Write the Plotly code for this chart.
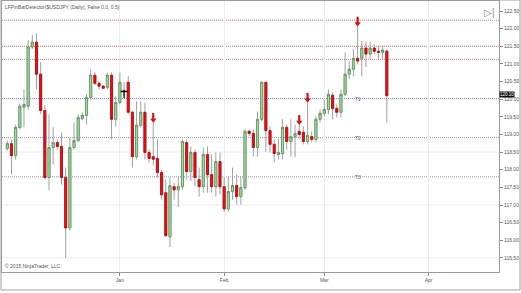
import plotly.graph_objects as go

# ---- data (USDJPY daily bars, index = bar number) ----
opens = [118.60,118.74,118.40,119.20,119.77,119.80,121.48,121.62,120.71,119.68,
         117.78,118.63,118.77,118.66,117.78,116.35,118.63,118.83,119.45,119.54,
         120.05,120.68,120.45,120.37,120.34,120.68,119.43,119.91,120.22,120.48,
         119.63,118.37,119.26,119.63,118.49,118.37,118.32,117.92,117.35,116.10,
         117.52,117.43,117.52,118.77,117.95,118.49,117.72,117.52,118.43,117.86,
         117.52,118.23,117.52,116.89,117.38,117.55,117.24,117.49,119.09,119.03,
         118.63,119.43,120.48,119.11,118.72,118.43,118.46,119.20,118.80,118.94,
         119.09,119.06,118.80,118.94,118.86,119.43,119.60,119.71,120.11,119.74,
         119.63,120.14,120.71,120.85,121.16,121.16,121.45,121.28,121.45,121.36,
         121.33,121.36]
highs = [118.83,118.86,119.28,119.88,120.28,121.68,121.82,121.87,121.05,119.83,
         119.57,119.20,118.86,119.06,118.06,118.91,119.34,119.57,119.63,120.14,
         120.85,120.76,120.51,120.40,120.76,120.76,120.08,120.76,120.48,120.65,
         119.68,119.94,119.94,119.91,118.57,119.34,118.86,118.00,117.72,117.78,
         117.63,117.80,118.86,118.86,118.66,118.57,118.06,118.63,118.66,118.43,
         118.49,118.49,117.80,117.80,118.06,117.86,117.80,119.14,119.14,119.14,
         119.65,120.50,120.50,119.23,118.86,118.86,119.43,119.28,119.43,119.28,
         119.28,119.23,119.91,119.09,119.51,119.71,119.99,120.28,120.20,119.85,
         120.28,121.33,121.08,121.42,122.07,121.65,121.62,121.62,121.56,121.53,
         121.53,121.42]
lows = [118.54,117.86,118.29,119.14,119.20,119.71,121.42,120.28,119.57,117.72,
        117.41,118.15,118.57,117.58,115.50,116.27,118.57,118.77,119.40,119.28,
        120.00,120.40,120.28,120.28,120.28,118.86,119.23,119.85,120.08,119.57,
        118.06,118.29,119.20,118.29,118.20,118.12,117.78,117.15,116.10,115.81,
        117.15,116.95,117.43,117.72,117.68,117.52,117.24,117.35,117.35,117.35,
        117.24,117.30,116.81,116.81,117.15,117.01,117.01,117.43,118.94,118.37,
        118.37,119.37,118.51,118.49,118.20,118.29,118.29,118.57,118.37,118.35,
        118.88,118.72,118.72,118.77,118.77,119.34,119.51,119.57,119.43,119.48,
        119.48,120.08,120.57,120.65,120.99,120.65,120.91,121.13,121.28,121.13,
        121.13,119.34]
closes = [118.74,118.40,119.20,119.80,119.85,121.48,121.62,120.71,119.68,117.78,
          118.63,118.77,118.66,117.78,116.35,118.63,118.83,119.48,119.54,120.05,
          120.68,120.45,120.37,120.31,120.68,119.43,119.91,120.48,120.22,119.63,
          118.37,119.26,119.63,118.49,118.32,118.30,117.92,117.29,116.13,117.55,
          117.43,117.52,118.80,117.95,118.49,117.78,117.52,118.43,117.86,117.52,
          118.23,117.52,116.89,117.38,117.55,117.24,117.49,119.09,119.03,118.63,
          119.43,120.48,119.11,118.72,118.46,118.49,119.20,118.80,118.94,119.03,
          119.00,118.80,118.97,118.86,119.43,119.60,119.71,120.14,119.74,119.63,
          120.14,120.71,120.85,121.16,121.08,121.45,121.28,121.45,121.36,121.33,
          121.39,120.10]
bars = list(range(len(opens)))

pin_bars_bear = [35, 70, 72, 84]   # red down arrows
pin_bars_mark = [28]               # black marker
signal_bar = 84

level_values = [122.24, 121.50, 121.13, 120.02, 118.91, 117.80]
level_labels = ["", "", "", "T1", "T2", "T3"]
level_colors = ["#e07878", "#e07878", "#e07878", "#8c8ce0", "#8c8ce0", "#8c8ce0"]

month_bars = [27, 52, 76, 101]
month_labels = ["Jan", "Feb", "Mar", "Apr"]

y_ticks = [115.5 + 0.5 * k for k in range(15)]
grid_levels = [115.5, 117.0, 118.5, 120.0, 121.5]

title_text = "LFPinBarDetector($USDJPY (Daily), False 0.0, 0.5)"
copyright_text = "\u00a9 2015 NinjaTrader, LLC"
last_price = closes[-1]

FONT = "Arial, Liberation Sans, sans-serif"

fig = go.Figure()

# wicks (full range, gray)
fig.add_trace(go.Candlestick(
    x=bars, open=opens, high=highs, low=lows, close=closes,
    increasing=dict(line=dict(color="#a0a0a0", width=1), fillcolor="#a0a0a0"),
    decreasing=dict(line=dict(color="#a0a0a0", width=1), fillcolor="#a0a0a0"),
    whiskerwidth=0, showlegend=False, hoverinfo="skip"))

# bodies
body_hi = [max(o, c) for o, c in zip(opens, closes)]
body_lo = [min(o, c) for o, c in zip(opens, closes)]
fig.add_trace(go.Candlestick(
    x=bars, open=opens, high=body_hi, low=body_lo, close=closes,
    increasing=dict(line=dict(color="#5f8f5f", width=0.8), fillcolor="#98ec98"),
    decreasing=dict(line=dict(color="#c80000", width=0.8), fillcolor="#e8101a"),
    whiskerwidth=0, showlegend=False, hoverinfo="skip"))

# red down arrows above bearish pin bars
arr_x = pin_bars_bear
arr_head = [highs[i] + 0.07 for i in pin_bars_bear]
arr_stem = [highs[i] + 0.17 for i in pin_bars_bear]
fig.add_trace(go.Scatter(x=arr_x, y=arr_stem, mode="markers",
    marker=dict(symbol="line-ns", size=5, line=dict(color="#d41010", width=2.2)),
    showlegend=False, hoverinfo="skip"))
fig.add_trace(go.Scatter(x=arr_x, y=arr_head, mode="markers",
    marker=dict(symbol="triangle-down", size=5.5, color="#d41010", line=dict(width=0)),
    showlegend=False, hoverinfo="skip"))

# black marker
fig.add_trace(go.Scatter(x=pin_bars_mark, y=[closes[i] for i in pin_bars_mark], mode="markers",
    marker=dict(symbol="line-ew", size=5, line=dict(color="black", width=1.5)),
    showlegend=False, hoverinfo="skip"))
fig.add_trace(go.Scatter(x=pin_bars_mark, y=[(closes[i] + lows[i]) / 2 for i in pin_bars_mark],
    mode="markers",
    marker=dict(symbol="line-ns", size=6, line=dict(color="black", width=1.2)),
    showlegend=False, hoverinfo="skip"))

shapes = []
for g in grid_levels:
    shapes.append(dict(type="line", xref="paper", x0=0, x1=1, yref="y", y0=g, y1=g,
                       line=dict(color="#ececec", width=1), layer="below"))
for v, col in zip(level_values, level_colors):
    shapes.append(dict(type="line", xref="paper", x0=0, x1=1, yref="y", y0=v, y1=v,
                       line=dict(color=col, width=1, dash="1px,1px"), layer="below"))
# outer window frame
shapes.append(dict(type="rect", xref="paper", yref="paper", x0=-0.002, x1=1.0423,
                   y0=-0.0664, y1=1.0037, line=dict(color="#a0a0a0", width=1)))

annotations = []
for v, lab in zip(level_values, level_labels):
    if lab:
        annotations.append(dict(x=signal_bar, y=v, xref="x", yref="y", text=lab,
                                showarrow=False, font=dict(size=5, color="#5a5a8a", family=FONT)))
annotations.append(dict(x=0.002, y=0.995, xref="paper", yref="paper", xanchor="left", yanchor="top",
                        text=title_text, showarrow=False,
                        font=dict(size=5, color="#555555", family=FONT)))
annotations.append(dict(x=0.002, y=0.004, xref="paper", yref="paper", xanchor="left", yanchor="bottom",
                        text=copyright_text, showarrow=False,
                        font=dict(size=5, color="#555555", family=FONT)))
annotations.append(dict(x=0.98, y=0.958, xref="paper", yref="paper", xanchor="center", yanchor="middle",
                        text="\u25b7|", showarrow=False,
                        font=dict(size=10, color="#888888", family=FONT)))
annotations.append(dict(x=1.0, y=last_price, xref="paper", yref="y", xanchor="left", yanchor="middle",
                        text="%.2f" % last_price, showarrow=False, bgcolor="#111111",
                        borderpad=0, yshift=1.5, font=dict(size=4.5, color="white", family=FONT)))

fig.update_layout(
    width=521, height=293,
    margin=dict(l=2, r=22, t=1, b=21, pad=0),
    paper_bgcolor="white", plot_bgcolor="white",
    shapes=shapes, annotations=annotations,
    xaxis=dict(range=[-1.27, 117.9], tickvals=month_bars, ticktext=month_labels,
               showgrid=True, gridcolor="#ececec", gridwidth=1, zeroline=False,
               ticks="outside", ticklen=3, tickcolor="#888888",
               tickfont=dict(size=5, color="#555555", family=FONT),
               showline=True, mirror=True, linecolor="#9a9a9a", linewidth=1,
               rangeslider=dict(visible=False)),
    yaxis=dict(side="right", range=[115.10, 122.785], tickvals=y_ticks,
               ticktext=["%.2f" % t for t in y_ticks],
               showgrid=False, zeroline=False,
               ticks="outside", ticklen=3, tickcolor="#888888",
               tickfont=dict(size=5, color="#555555", family=FONT),
               showline=True, mirror=True, linecolor="#9a9a9a", linewidth=1),
)

fig.write_html("out.html")
